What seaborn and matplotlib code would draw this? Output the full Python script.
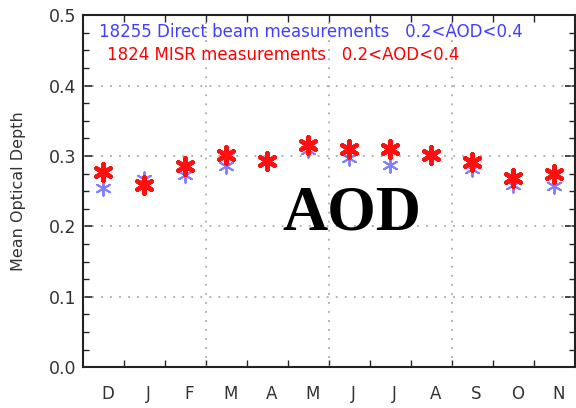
import matplotlib
matplotlib.use("Agg")
import matplotlib.pyplot as plt
import matplotlib.transforms as mtransforms
from matplotlib.ticker import MultipleLocator, FixedLocator
import seaborn as sns
import pandas as pd
import numpy as np

months = ["D", "J", "F", "M", "A", "M", "J", "J", "A", "S", "O", "N"]
direct_beam = [0.255, 0.267, 0.273, 0.286, 0.293, 0.309, 0.297, 0.287, 0.301, 0.282, 0.259, 0.257]
misr = [0.277, 0.259, 0.286, 0.301, 0.293, 0.315, 0.310, 0.310, 0.301, 0.291, 0.269, 0.274]
blue_label = "18255 Direct beam measurements   0.2<AOD<0.4"
red_label = "1824 MISR measurements   0.2<AOD<0.4"

pos = np.arange(len(months)) + 0.5
df = pd.DataFrame({"pos": pos, "month": months, "direct": direct_beam, "misr": misr})

sns.set_style("ticks")
plt.rcParams['font.family'] = ['DejaVu Sans']

fig = plt.figure(figsize=(5.76, 4.08), dpi=100)
ax = fig.add_axes([0.144, 0.100, 0.854, 0.863])

sns.scatterplot(data=df, x="pos", y="direct", ax=ax, marker=(6, 2, 0), s=110,
                color="#6a6aff", linewidth=1.4, alpha=0.85, zorder=3)
sns.scatterplot(data=df, x="pos", y="misr", ax=ax, marker=(6, 2, 0), s=140,
                color="#ff1010", linewidth=3.2, zorder=4)

ax.set_xlim(0, 12)
ax.set_ylim(0, 0.5)

# y ticks
ax.yaxis.set_major_locator(MultipleLocator(0.1))
ax.yaxis.set_minor_locator(MultipleLocator(0.025))
ax.set_yticklabels([f"{v:.1f}" for v in ax.get_yticks()])
ax.tick_params(axis="y", which="major", direction="in", length=7, width=1.2,
               right=True, labelsize=12.5, labelcolor="#333333", pad=5)
ax.tick_params(axis="y", which="minor", direction="in", length=4, width=1.0, right=True)

# x ticks: labels at month centres, tick marks at boundaries
ax.set_xticks(pos)
ax.set_xticklabels(months)
ax.xaxis.set_minor_locator(FixedLocator(np.arange(1, 12)))
ax.tick_params(axis="x", which="major", length=0, labelsize=12, labelcolor="#333333", pad=13)
ax.tick_params(axis="x", which="minor", direction="in", length=5, width=1.0, top=True)
offset = mtransforms.ScaledTranslation(4 / 100, 0, fig.dpi_scale_trans)
for lab in ax.get_xticklabels():
    lab.set_transform(lab.get_transform() + offset)

# grid
for yv in [0.1, 0.2, 0.3, 0.4]:
    ax.axhline(yv, color="#aaaaaa", lw=1.3, ls=(0, (1, 4)), zorder=1)
for xv in [3, 6, 9]:
    ax.axvline(xv, color="#aaaaaa", lw=1.3, ls=(0, (1, 4)), zorder=1)

for sp in ax.spines.values():
    sp.set_visible(True)
    sp.set_linewidth(1.5)
    sp.set_color("#222222")

ax.set_xlabel("")
ax.set_ylabel("Mean Optical Depth", fontsize=11.5, color="#333333")
ax.yaxis.set_label_coords(-0.115, 0.5)

ax.text(0.39, 0.476, blue_label, color="#4040ff", fontsize=12, va="center", ha="left")
ax.text(0.58, 0.443, red_label, color="#ff0000", fontsize=12, va="center", ha="left")

ax.text(6.55, 0.217, "AOD", fontsize=45, fontweight="bold", family="Liberation Serif",
        ha="center", va="center", color="black", zorder=5)

fig.savefig("out.png", dpi=100)
